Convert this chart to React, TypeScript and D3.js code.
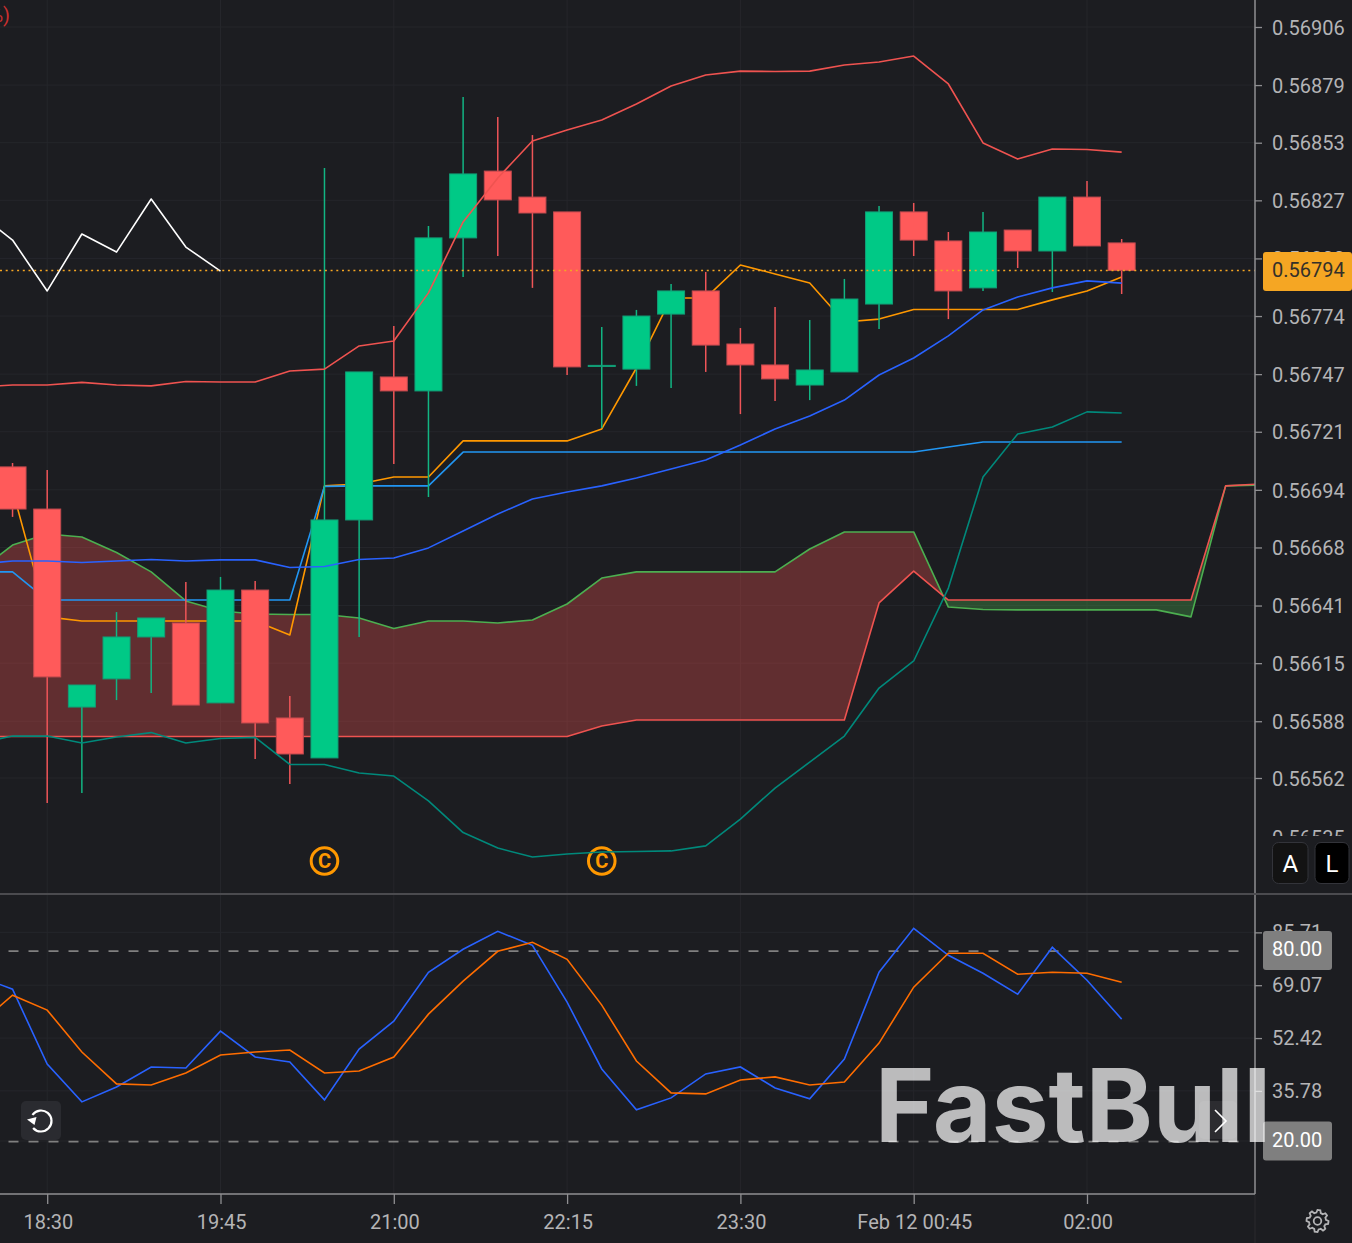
import React, { useEffect, useRef } from 'react'
import * as d3 from 'd3'

const WIDTH = 1352
const HEIGHT = 1243

// candles start one bar before the 18:30 tick (bar 0)
const candleStart = -1
const opens = [0.567045, 0.566852, 0.565945, 0.566074, 0.566266, 0.56633, 0.565964, 0.566481, 0.565895, 0.565712, 0.566802, 0.567457, 0.567393, 0.568094, 0.5684, 0.568281, 0.568213, 0.567505, 0.567493, 0.567745, 0.567851, 0.567608, 0.567512, 0.56742, 0.56748, 0.567791, 0.568213, 0.56808, 0.567865, 0.56813, 0.568034, 0.568281, 0.568071]
const closes = [0.566852, 0.566083, 0.566046, 0.566266, 0.566353, 0.565954, 0.566481, 0.565872, 0.56573, 0.566802, 0.56748, 0.567393, 0.568094, 0.568387, 0.568268, 0.568208, 0.567503, 0.56751, 0.567736, 0.567851, 0.567603, 0.567512, 0.567448, 0.567489, 0.567814, 0.568213, 0.568084, 0.567851, 0.568121, 0.568034, 0.568281, 0.568057, 0.567945]
const highs = [0.567063, 0.567031, 0.566046, 0.56638, 0.566353, 0.566518, 0.566541, 0.566522, 0.565996, 0.568414, 0.56748, 0.56769, 0.568148, 0.568739, 0.568648, 0.568565, 0.568213, 0.567686, 0.567764, 0.567883, 0.567938, 0.567681, 0.567777, 0.567718, 0.567906, 0.56824, 0.568254, 0.568121, 0.568213, 0.56813, 0.568281, 0.568355, 0.568089]
const lows = [0.566816, 0.565506, 0.565551, 0.565977, 0.566009, 0.565954, 0.565964, 0.565707, 0.565593, 0.565712, 0.566266, 0.567058, 0.566907, 0.567915, 0.568011, 0.567865, 0.567466, 0.567223, 0.567416, 0.567406, 0.56748, 0.567287, 0.567347, 0.567351, 0.56748, 0.567677, 0.568011, 0.567722, 0.567851, 0.567956, 0.567846, 0.568057, 0.567837]

// indicator lines start two bars before bar 0
const lineStart = -2
const bollUpper = [0.567411, 0.56742, 0.56742, 0.567432, 0.56742, 0.567416, 0.567436, 0.567434, 0.567434, 0.567484, 0.567493, 0.567599, 0.567622, 0.567842, 0.568167, 0.568368, 0.568538, 0.568588, 0.568634, 0.568707, 0.56879, 0.56884, 0.568858, 0.568856, 0.568858, 0.568886, 0.5689, 0.568927, 0.568799, 0.568529, 0.568455, 0.568501, 0.568499, 0.568487]
const bollMiddle = [0.5666, 0.566614, 0.566614, 0.566607, 0.566614, 0.566621, 0.566614, 0.566619, 0.566619, 0.566584, 0.566589, 0.566621, 0.566628, 0.566674, 0.566751, 0.566829, 0.566898, 0.56693, 0.566958, 0.566994, 0.567035, 0.567077, 0.567145, 0.567219, 0.567278, 0.567351, 0.567466, 0.567544, 0.567645, 0.567764, 0.567823, 0.567865, 0.567897, 0.567887]
const bollLower = [0.56578, 0.565812, 0.565812, 0.56578, 0.565808, 0.565828, 0.56578, 0.565801, 0.565806, 0.565682, 0.565682, 0.565643, 0.565629, 0.565515, 0.56537, 0.565299, 0.565258, 0.565272, 0.565281, 0.565283, 0.565286, 0.565309, 0.565432, 0.565574, 0.565693, 0.565812, 0.566032, 0.566156, 0.56649, 0.566999, 0.567196, 0.567228, 0.567297, 0.567292]
const conversion = [0.566985, 0.566939, 0.566358, 0.566339, 0.566339, 0.566339, 0.566339, 0.566339, 0.566339, 0.566275, 0.566958, 0.566967, 0.566999, 0.566999, 0.567164, 0.567164, 0.567164, 0.567164, 0.567219, 0.567498, 0.567819, 0.567819, 0.56797, 0.567929, 0.567887, 0.567709, 0.567722, 0.567766, 0.567766, 0.567766, 0.567766, 0.56781, 0.567851, 0.567915]
const baseLine = [0.566564, 0.566564, 0.566435, 0.566435, 0.566435, 0.566435, 0.566435, 0.566435, 0.566435, 0.566435, 0.566956, 0.566958, 0.566958, 0.566958, 0.567113, 0.567113, 0.567113, 0.567113, 0.567113, 0.567113, 0.567113, 0.567113, 0.567113, 0.567113, 0.567113, 0.567113, 0.567113, 0.567113, 0.567136, 0.567159, 0.567159, 0.567159, 0.567159, 0.567159]
const lagging = [0.568208, 0.568084, 0.567851, 0.568112, 0.568029, 0.568272, 0.568052, 0.567942]
const spanA = [0.566564, 0.566687, 0.566738, 0.566724, 0.566653, 0.566564, 0.566431, 0.566385, 0.566371, 0.566369, 0.566369, 0.566353, 0.566305, 0.566339, 0.566339, 0.56633, 0.566344, 0.566417, 0.566536, 0.566564, 0.566564, 0.566564, 0.566564, 0.566564, 0.566669, 0.566747, 0.566747, 0.566747, 0.566403, 0.566392, 0.56639, 0.56639, 0.56639, 0.56639, 0.56639, 0.566358, 0.566958, 0.566962]
const spanB = [0.56581, 0.56581, 0.56581, 0.56581, 0.56581, 0.56581, 0.56581, 0.56581, 0.56581, 0.56581, 0.56581, 0.56581, 0.56581, 0.56581, 0.56581, 0.56581, 0.56581, 0.56581, 0.565858, 0.565886, 0.565886, 0.565886, 0.565886, 0.565886, 0.565886, 0.565886, 0.566422, 0.566568, 0.566435, 0.566435, 0.566435, 0.566435, 0.566435, 0.566435, 0.566435, 0.566435, 0.566958, 0.566967]

const stochK = [71.9, 67.81, 44.26, 32.32, 37.03, 43.32, 43.0, 54.62, 46.46, 44.89, 32.95, 48.97, 57.76, 73.15, 80.38, 86.03, 81.63, 63.73, 42.69, 29.81, 33.58, 41.12, 43.32, 36.72, 33.27, 45.83, 73.15, 86.97, 78.49, 72.84, 66.24, 81.0, 70.64, 58.39]
const stochD = [56.51, 65.93, 61.22, 48.03, 37.98, 37.66, 41.43, 47.09, 48.03, 48.66, 41.43, 42.06, 46.46, 59.96, 70.33, 79.75, 82.57, 77.24, 62.79, 45.2, 35.15, 34.83, 39.23, 40.18, 37.66, 38.6, 50.85, 68.44, 79.12, 79.12, 72.52, 73.15, 72.84, 70.01]

const priceTicks = [0.56906, 0.568794, 0.56853, 0.568266, 0.568, 0.567736, 0.56747, 0.567206, 0.56694, 0.566676, 0.56641, 0.566146, 0.56588, 0.56562, 0.56535]
const stochTicks = [85.71, 69.07, 52.42, 35.78, 20]
const stochLevels = [80, 20]
const timeTickBars = [0, 5, 10, 15, 20, 25, 30]
const timeTickLabels = ['18:30', '19:45', '21:00', '22:15', '23:30', 'Feb 12 00:45', '02:00']
const markerBars = [8, 16]
const lastPrice = 0.567945
const lastPriceLabel = '0.56794'

const FONT = 'Roboto, sans-serif'
const BG = '#1c1d21'
const GRID = '#25262b'
const AXIS = '#8f8f92'
const LABEL = '#b4b4b6'
const UP = '#00c986'
const DOWN = '#ff5a5a'
const LINE_W = 1.6

export default function App() {
  const svgRef = useRef<SVGSVGElement>(null)

  useEffect(() => {
    if (!svgRef.current) return
    const svg = d3.select(svgRef.current)
    svg.selectAll('*').remove()

    const right = 1255
    const paneBottom = 894
    const chartBottom = 1194

    const x = d3.scaleLinear().domain([0, 30]).range([47.2, 1087])
    const y = d3.scaleLinear().domain([0.56562, 0.56906]).range([778, 27])
    const yStoch = d3.scaleLinear().domain([20, 80]).range([1141, 950.5])

    const defs = svg.append('defs')
    defs.append('clipPath').attr('id', 'main-clip').append('rect').attr('width', right).attr('height', paneBottom)
    defs.append('clipPath').attr('id', 'stoch-clip').append('rect').attr('y', paneBottom).attr('width', right).attr('height', chartBottom - paneBottom)
    defs.append('clipPath').attr('id', 'price-axis-clip').append('rect').attr('x', 0).attr('y', 0).attr('width', 100).attr('height', 836)

    svg.append('rect').attr('width', WIDTH).attr('height', HEIGHT).attr('fill', BG)

    // grid
    const grid = svg.append('g').attr('stroke', GRID).attr('stroke-width', 1)
    grid.selectAll('.grid-x').data(timeTickBars).enter().append('line')
      .attr('x1', d => x(d)).attr('x2', d => x(d)).attr('y1', 0).attr('y2', chartBottom)
    grid.selectAll('.grid-y').data(priceTicks.slice(0, -1)).enter().append('line')
      .attr('x1', 0).attr('x2', right).attr('y1', d => y(d)).attr('y2', d => y(d))
    grid.selectAll('.grid-s').data(stochTicks).enter().append('line')
      .attr('x1', 0).attr('x2', right).attr('y1', d => yStoch(d)).attr('y2', d => yStoch(d))

    const main = svg.append('g').attr('clip-path', 'url(#main-clip)')
    const stoch = svg.append('g').attr('clip-path', 'url(#stoch-clip)')

    const priceLine = (start: number) => d3.line<number>()
      .x((_, i) => x(i + start))
      .y(d => y(d))

    const addLine = (g: any, values: number[], start: number, color: string, width = LINE_W) =>
      g.append('path')
        .attr('fill', 'none')
        .attr('stroke', color)
        .attr('stroke-width', width)
        .attr('stroke-linejoin', 'round')
        .attr('d', priceLine(start)(values))

    // cloud, split where the two spans cross
    const cloud = spanA.map((a, i) => ({ bar: i + lineStart, a, b: spanB[i] }))
    const crossAt = cloud.findIndex(d => d.a < d.b)
    const p0 = cloud[crossAt - 1]
    const p1 = cloud[crossAt]
    const t = (p0.a - p0.b) / (p0.a - p0.b - (p1.a - p1.b))
    const crossPoint = { bar: p0.bar + t, a: p0.a + (p1.a - p0.a) * t, b: p0.b + (p1.b - p0.b) * t }
    const cloudArea = d3.area<{ bar: number; a: number; b: number }>()
      .x(d => x(d.bar)).y0(d => y(d.a)).y1(d => y(d.b))
    main.append('path')
      .attr('fill', '#ef5350').attr('fill-opacity', 0.33)
      .attr('d', cloudArea([...cloud.slice(0, crossAt), crossPoint]))
    main.append('path')
      .attr('fill', '#4caf50').attr('fill-opacity', 0.33)
      .attr('d', cloudArea([crossPoint, ...cloud.slice(crossAt)]))

    addLine(main, spanA, lineStart, '#4caf50')
    addLine(main, spanB, lineStart, '#ef5350')
    addLine(main, conversion, lineStart, '#ff9800')
    addLine(main, baseLine, lineStart, '#2196f3')

    // candles
    const candles = opens.map((open, i) => ({
      bar: i + candleStart, open, close: closes[i], high: highs[i], low: lows[i],
    }))
    const candleWidth = 28
    main.selectAll('.wick').data(candles).enter().append('line')
      .attr('x1', d => x(d.bar)).attr('x2', d => x(d.bar))
      .attr('y1', d => y(d.high)).attr('y2', d => y(d.low))
      .attr('stroke', d => (d.close >= d.open ? '#12b583' : '#ef5558'))
      .attr('stroke-width', 1.5)
    main.selectAll('.body').data(candles).enter().append('rect')
      .attr('x', d => x(d.bar) - candleWidth / 2 + 0.5)
      .attr('width', candleWidth - 1)
      .attr('y', d => y(Math.max(d.open, d.close)))
      .attr('height', d => Math.abs(y(d.open) - y(d.close)))
      .attr('fill', d => (d.close >= d.open ? UP : DOWN))
      .attr('stroke', d => (d.close >= d.open ? '#129e77' : '#c24a4f'))
      .attr('stroke-width', 1)

    // markers
    const markers = main.selectAll('.marker').data(markerBars).enter().append('g')
      .attr('transform', d => `translate(${x(d)},861)`)
    markers.append('circle').attr('r', 13.3).attr('fill', 'none').attr('stroke', '#ff9800').attr('stroke-width', 3)
    markers.append('text').text('C')
      .attr('text-anchor', 'middle').attr('dy', '0.36em')
      .attr('fill', '#ff9800').attr('font-family', FONT).attr('font-weight', 700).attr('font-size', 20)

    addLine(main, bollUpper, lineStart, '#ef5350')
    addLine(main, bollMiddle, lineStart, '#2962ff')
    addLine(main, bollLower, lineStart, '#00897b')
    addLine(main, lagging, lineStart, '#ffffff')

    main.append('line')
      .attr('x1', 0).attr('x2', right)
      .attr('y1', y(lastPrice)).attr('y2', y(lastPrice))
      .attr('stroke', '#f5a623').attr('stroke-width', 1.5).attr('stroke-dasharray', '2 3.7')

    main.append('text').text('%)')
      .attr('x', 10).attr('y', 22).attr('text-anchor', 'end')
      .attr('fill', '#c9302f').attr('font-family', FONT).attr('font-size', 20)

    // lower pane
    stoch.selectAll('.level').data(stochLevels).enter().append('line')
      .attr('x1', 8.5).attr('x2', 1247)
      .attr('y1', d => yStoch(d) + 0.6).attr('y2', d => yStoch(d) + 0.6)
      .attr('stroke', '#808080').attr('stroke-width', 1.6).attr('stroke-dasharray', '10 10')
    const stochLine = d3.line<number>().x((_, i) => x(i + lineStart)).y(d => yStoch(d))
    stoch.append('path').attr('fill', 'none').attr('stroke', '#2962ff').attr('stroke-width', LINE_W).attr('d', stochLine(stochK))
    stoch.append('path').attr('fill', 'none').attr('stroke', '#ff6d00').attr('stroke-width', LINE_W).attr('d', stochLine(stochD))

    // frames
    svg.append('line').attr('x1', right).attr('x2', right).attr('y1', chartBottom).attr('y2', HEIGHT).attr('stroke', '#2a2b2f')
    svg.append('line').attr('x1', right).attr('x2', right).attr('y1', 0).attr('y2', chartBottom).attr('stroke', AXIS).attr('stroke-width', 1.5)
    svg.append('line').attr('x1', 0).attr('x2', WIDTH).attr('y1', paneBottom).attr('y2', paneBottom).attr('stroke', '#4b4b4f').attr('stroke-width', 2)
    svg.append('line').attr('x1', 0).attr('x2', right).attr('y1', chartBottom).attr('y2', chartBottom).attr('stroke', AXIS).attr('stroke-width', 1.5)

    // axes
    const styleAxis = (g: any) => {
      g.select('.domain').remove()
      g.selectAll('.tick line').attr('stroke', AXIS).attr('stroke-width', 1.3)
      g.selectAll('.tick text').attr('fill', LABEL).attr('font-family', FONT).attr('font-size', 20)
    }
    svg.append('g')
      .attr('transform', `translate(${right},0)`)
      .attr('clip-path', 'url(#price-axis-clip)')
      .call(d3.axisRight(y).tickValues(priceTicks).tickFormat(d3.format('.5f') as any).tickSize(7).tickPadding(10))
      .call(styleAxis)
      .selectAll('.tick text').attr('dy', '0.36em')
    svg.append('g')
      .attr('transform', `translate(${right},0)`)
      .call(d3.axisRight(yStoch).tickValues(stochTicks.slice(0, -1)).tickFormat(d3.format('.2f') as any).tickSize(7).tickPadding(10))
      .call(styleAxis)
    const timeAxis = svg.append('g')
      .attr('transform', `translate(0,${chartBottom})`)
      .call(d3.axisBottom(x).tickValues(timeTickBars).tickFormat((_, i) => timeTickLabels[i]).tickSize(10).tickPadding(11))
      .call(styleAxis)
    timeAxis.selectAll('.tick text').attr('dx', 0.6)

    // value badges
    const badge = (boxY: number, textY: number, label: string, fill: string, color: string, w: number) => {
      svg.append('rect').attr('x', 1263).attr('y', boxY - 19.5).attr('width', w).attr('height', 39).attr('rx', 3).attr('fill', fill)
      svg.append('text').text(label)
        .attr('x', 1272).attr('y', textY).attr('dy', '0.35em')
        .attr('fill', color).attr('font-family', FONT).attr('font-size', 20)
    }
    badge(y(lastPrice) + 1.1, y(lastPrice), lastPriceLabel, '#f5a623', '#33302a', WIDTH - 1263)
    stochLevels.forEach(level =>
      badge(yStoch(level), yStoch(level) - 1.5, d3.format('.2f')(level), '#7f7f7f', '#ffffff', 69))

    // A / L buttons
    const buttons = [
      { label: 'A', left: 1272.5, width: 35.5, fill: '#131313' },
      { label: 'L', left: 1315, width: 34, fill: '#000000' },
    ]
    buttons.forEach(b => {
      svg.append('rect').attr('x', b.left).attr('y', 842.5).attr('width', b.width).attr('height', 41).attr('rx', 6)
        .attr('fill', b.fill).attr('stroke', '#33343a')
      svg.append('text').text(b.label)
        .attr('x', b.left + b.width / 2).attr('y', 863).attr('dy', '0.36em').attr('text-anchor', 'middle')
        .attr('fill', '#fff').attr('font-family', FONT).attr('font-size', 24)
    })

    // reset button
    svg.append('rect').attr('x', 21).attr('y', 1101).attr('width', 40).attr('height', 39).attr('rx', 5).attr('fill', '#2a2b30')
    const resetArc = d3.arc()({ innerRadius: 10.5, outerRadius: 10.5, startAngle: -0.95, endAngle: 3.99 })
    svg.append('path').attr('transform', 'translate(41,1121)').attr('d', resetArc)
      .attr('fill', 'none').attr('stroke', '#fff').attr('stroke-width', 2.2)
    svg.append('path').attr('d', 'M27 1119.5 L36.5 1117 L34.5 1125 Z').attr('fill', '#fff')

    // watermark
    svg.append('text').text('FastBull')
      .attr('x', 875).attr('y', 1142)
      .attr('textLength', 396).attr('lengthAdjust', 'spacingAndGlyphs')
      .attr('fill', '#ffffff').attr('fill-opacity', 0.7)
      .attr('font-family', 'Inter, sans-serif').attr('font-weight', 700).attr('font-size', 102)

    // scroll button
    svg.append('rect').attr('x', 1199).attr('y', 1101).attr('width', 38).attr('height', 38).attr('rx', 5).attr('fill', '#ffffff').attr('fill-opacity', 0.07)
    svg.append('path').attr('d', 'M1215 1110 L1226 1121 L1215 1132').attr('fill', 'none').attr('stroke', '#fff').attr('stroke-width', 1.6)

    // settings gear
    const teeth = d3.range(0, 48).map(i => {
      const k = i % 6
      return { a: (i / 48) * 2 * Math.PI, r: k < 3 ? 11 : 8.5 }
    })
    const gear = d3.lineRadial<{ a: number; r: number }>().angle(d => d.a).radius(d => d.r).curve(d3.curveLinearClosed)
    svg.append('path').attr('transform', 'translate(1317.5,1221)').attr('d', gear(teeth))
      .attr('fill', 'none').attr('stroke', '#b4b4b6').attr('stroke-width', 1.8)
    svg.append('circle').attr('cx', 1317.5).attr('cy', 1221).attr('r', 3.8)
      .attr('fill', 'none').attr('stroke', '#b4b4b6').attr('stroke-width', 1.8)
  }, [])

  return (
    <svg
      ref={svgRef}
      width={WIDTH}
      height={HEIGHT}
      style={{ position: 'absolute', left: 0, top: 0, display: 'block' }}
    />
  )
}
